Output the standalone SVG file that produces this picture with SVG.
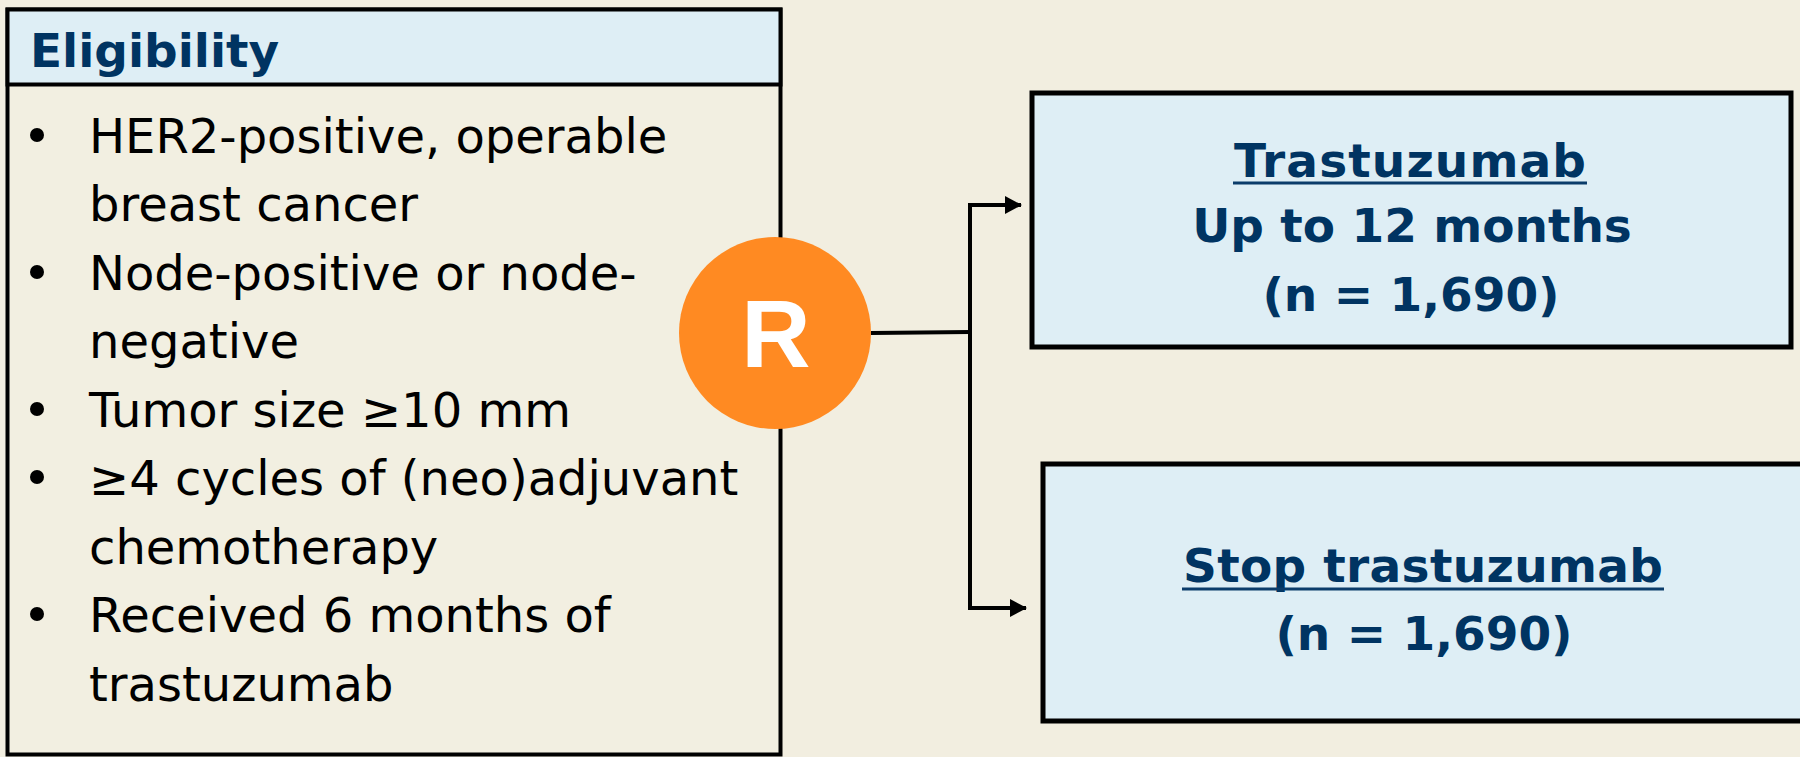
<svg xmlns="http://www.w3.org/2000/svg" width="1800" height="757" viewBox="0 0 1800 757">
<defs>
<style>
.bg{fill:#F2EEE0}
.box{stroke:#000;stroke-width:5;fill:#DEEEF5}
.body{font-family:"DejaVu Sans","Verdana",sans-serif;font-size:48px;fill:#000}
.head{font-family:"DejaVu Sans","Verdana",sans-serif;font-size:47px;font-weight:bold;fill:#003462}
.arm{font-family:"DejaVu Sans","Verdana",sans-serif;font-size:47px;font-weight:bold;fill:#003462;text-anchor:middle}
.ul{stroke:#0B3C6A;stroke-width:3}
.conn{stroke:#000;stroke-width:4;fill:none}
</style>
<marker id="ah" markerWidth="18" markerHeight="18" refX="16" refY="9" orient="auto" markerUnits="userSpaceOnUse" viewBox="0 0 18 18">
<path d="M0,0 L17,9 L0,18 Z" fill="#000"/>
</marker>
</defs>
<rect class="bg" x="0" y="0" width="1800" height="757"/>

<g id="eligibility">
<rect x="7.5" y="9.5" width="773" height="745" fill="#F2EFE1" stroke="#000" stroke-width="4"/>
<rect x="7.5" y="9.5" width="773" height="75" fill="#DEEEF5" stroke="#000" stroke-width="4"/>
<text class="head" x="30" y="67">Eligibility</text>
<g fill="#000">
<circle cx="37" cy="135" r="7"/>
<circle cx="37" cy="272" r="7"/>
<circle cx="37" cy="409" r="7"/>
<circle cx="37" cy="477" r="7"/>
<circle cx="37" cy="614" r="7"/>
</g>
<text class="body" x="89" y="153">HER2-positive, operable</text>
<text class="body" x="89" y="221">breast cancer</text>
<text class="body" x="89" y="290">Node-positive or node-</text>
<text class="body" x="89" y="358">negative</text>
<text class="body" x="89" y="427">Tumor size ≥10 mm</text>
<text class="body" x="89" y="495">≥4 cycles of (neo)adjuvant</text>
<text class="body" x="89" y="564">chemotherapy</text>
<text class="body" x="89" y="632">Received 6 months of</text>
<text class="body" x="89" y="701">trastuzumab</text>
</g>

<g id="connectors">
<path class="conn" d="M871,333 L970,332"/>
<path class="conn" d="M970,205 L970,608"/>
<path class="conn" d="M968,205 L1021,205" marker-end="url(#ah)"/>
<path class="conn" d="M968,608 L1026,608" marker-end="url(#ah)"/>
</g>

<g id="randomize">
<circle cx="775" cy="333" r="96" fill="#FF8A22"/>
<text x="776" y="367" font-family="Liberation Sans, Arial, sans-serif" font-size="96" font-weight="bold" fill="#fff" text-anchor="middle">R</text>
</g>

<g id="arm-continue">
<rect class="box" x="1032" y="93" width="759" height="254"/>
<text class="arm" x="1410" y="177" textLength="352" lengthAdjust="spacing">Trastuzumab</text>
<line class="ul" x1="1233" y1="183" x2="1587" y2="183"/>
<text class="arm" x="1412" y="242">Up to 12 months</text>
<text class="arm" x="1411" y="311">(n = 1,690)</text>
</g>

<g id="arm-stop">
<rect class="box" x="1043" y="464" width="762" height="257"/>
<text class="arm" x="1423" y="582" textLength="480" lengthAdjust="spacing">Stop trastuzumab</text>
<line class="ul" x1="1182" y1="589" x2="1664" y2="589"/>
<text class="arm" x="1424" y="650">(n = 1,690)</text>
</g>
</svg>
